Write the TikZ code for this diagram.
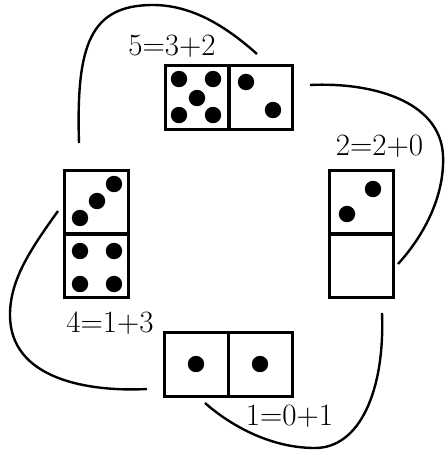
\documentclass[tikz,border=0pt]{standalone}
\begin{document}
\begin{tikzpicture}[x=1pt,y=-1pt,
  half/.style={draw,line width=3pt,minimum size=63.5pt,inner sep=0pt},
  loop/.style={line width=2.4pt},
  sum/.style={font=\fontsize{31}{31}\selectfont,inner sep=0pt,anchor=base}]

\useasboundingbox (0,0) rectangle (445,451);

% Top domino 3|2
\node[half] (fiveL) at (197,97.5) {};
\node[half] (fiveR) at (261,97.5) {};
\fill (179,79) circle (8.2pt);
\fill (213,79) circle (8.2pt);
\fill (197,98) circle (8.2pt);
\fill (179,115) circle (8.2pt);
\fill (213,115) circle (8.2pt);
\fill (246,82) circle (8.2pt);
\fill (273,110) circle (8.2pt);
\node[sum] (fivelab) at (172,55) {5=3+2};

% Right domino 2|0
\node[half] (twoT) at (361.5,202) {};
\node[half] (twoB) at (361.5,266) {};
\fill (373,189) circle (8.2pt);
\fill (347,214) circle (8.2pt);
\node[sum] (twolab) at (379.5,155) {2=2+0};

% Left domino 3|4
\node[half] (fourT) at (96.5,202) {};
\node[half] (fourB) at (96.5,266) {};
\fill (114,184) circle (8.2pt);
\fill (97,201) circle (8.2pt);
\fill (80,218) circle (8.2pt);
\fill (80,251) circle (8.2pt);
\fill (114,251) circle (8.2pt);
\fill (80,284) circle (8.2pt);
\fill (114,284) circle (8.2pt);
\node[sum] (fourlab) at (110,332) {4=1+3};

% Bottom domino 1|1
\node[half] (oneL) at (196.5,364.5) {};
\node[half] (oneR) at (260.5,364.5) {};
\fill (196,364) circle (8.2pt);
\fill (260,364) circle (8.2pt);
\node[sum] (onelab) at (289.5,425) {1=0+1};

% Connecting arcs
\draw[loop] (79,143) .. controls (76,45) and (90,5) .. (153,5)
  .. controls (195,5) and (230,30) .. (257,54);
\draw[loop] (310,85) .. controls (370,82) and (440,100) .. (443,155)
  .. controls (445,200) and (420,240) .. (398,264);
\draw[loop] (382,313) .. controls (385,390) and (360,448) .. (315,448)
  .. controls (270,448) and (230,425) .. (205,403);
\draw[loop] (58,211) .. controls (30,250) and (10,280) .. (10,315)
  .. controls (10,380) and (90,392) .. (147,389);

\end{tikzpicture}
\end{document}
